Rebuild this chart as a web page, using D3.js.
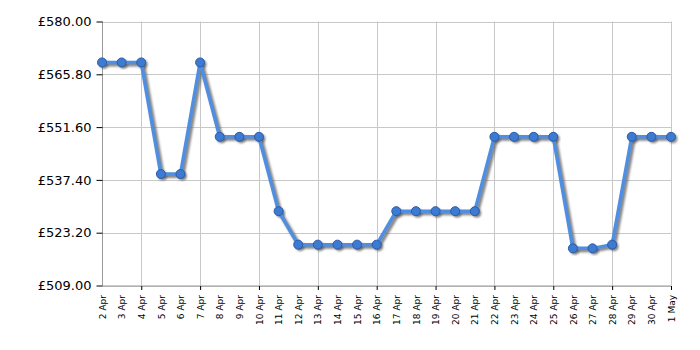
<!DOCTYPE html>
<html>
<head>
<meta charset="utf-8">
<script src="https://cdn.jsdelivr.net/npm/d3@7"></script>
<style>
  body { margin: 0; background: #fff; }
  svg { display: block; }
</style>
</head>
<body>
<svg id="chart" width="700" height="350"></svg>
<script>
// dates and prices
var days = ["2 Apr","3 Apr","4 Apr","5 Apr","6 Apr","7 Apr","8 Apr","9 Apr","10 Apr","11 Apr",
            "12 Apr","13 Apr","14 Apr","15 Apr","16 Apr","17 Apr","18 Apr","19 Apr","20 Apr","21 Apr",
            "22 Apr","23 Apr","24 Apr","25 Apr","26 Apr","27 Apr","28 Apr","29 Apr","30 Apr","1 May"];
var prices = [568.99, 568.99, 568.99, 538.99, 538.99, 568.99, 548.99, 548.99, 548.99, 528.99,
              519.99, 519.99, 519.99, 519.99, 519.99, 528.99, 528.99, 528.99, 528.99, 528.99,
              548.99, 548.99, 548.99, 548.99, 518.99, 518.99, 519.99, 548.99, 548.99, 548.99];
var yTicks = [509, 523.2, 537.4, 551.6, 565.8, 580];

var svg = d3.select("#chart");
// note: "top" is taken by window.top, so use plotTop
var plotLeft = 102, plotRight = 671, plotTop = 21.5, plotBottom = 285.5;

var x = d3.scalePoint().domain(days).range([plotLeft, plotRight]);
var y = d3.scaleLinear().domain([509, 580]).range([plotBottom, plotTop]);

// vertical grid every third day, starting at 4 Apr
var gridDays = days.filter(function(d, i) { return i % 3 == 2; });

var grid = svg.append("g").attr("stroke", "#c8c8c8").attr("stroke-width", 1);
grid.selectAll("line.h").data(yTicks).enter().append("line")
    .attr("x1", plotLeft).attr("x2", plotRight)
    .attr("y1", function(d) { return Math.round(y(d)) + 0.5; })
    .attr("y2", function(d) { return Math.round(y(d)) + 0.5; });
grid.selectAll("line.v").data(gridDays).enter().append("line")
    .attr("x1", function(d) { return Math.round(x(d)) + 0.5; })
    .attr("x2", function(d) { return Math.round(x(d)) + 0.5; })
    .attr("y1", plotTop).attr("y2", plotBottom);

// y axis
var yAxis = svg.append("g")
    .attr("transform", "translate(" + (plotLeft + 0.5) + ",0)")
    .call(d3.axisLeft(y).tickValues(yTicks).tickSize(6).tickPadding(5)
          .tickFormat(function(d) { return "£" + d3.format(".2f")(d); }));
yAxis.select(".domain").attr("stroke", "#999").attr("d", "M0," + plotTop + "V" + (plotBottom + 0.5));
yAxis.selectAll(".tick line").attr("stroke", "#000");
yAxis.selectAll("text").attr("font-family", "DejaVu Sans, Verdana, sans-serif")
    .attr("font-size", "13px").attr("fill", "#000");

// x axis
var xAxis = svg.append("g")
    .attr("transform", "translate(0," + (plotBottom + 0.5) + ")")
    .call(d3.axisBottom(x).tickSize(0).tickPadding(0));
xAxis.select(".domain").attr("stroke", "#999").attr("d", "M" + plotLeft + ",0H" + plotRight);
xAxis.selectAll(".tick").filter(function(d) { return gridDays.indexOf(d) >= 0; })
    .append("line").attr("y2", 4).attr("stroke", "#000");
xAxis.selectAll("text")
    .attr("font-family", "DejaVu Sans, Verdana, sans-serif")
    .attr("font-size", "9px").attr("fill", "#000")
    .attr("text-anchor", "end")
    .attr("dy", "0.35em")
    .attr("transform", "translate(0,9) rotate(-90)");

// price line with a soft shadow
var line = d3.line()
    .x(function(d, i) { return x(days[i]); })
    .y(function(d) { return y(d); });

var defs = svg.append("defs");
defs.append("filter").attr("id", "blur").append("feGaussianBlur").attr("stdDeviation", 1);

svg.append("path").datum(prices)
    .attr("d", line).attr("fill", "none")
    .attr("stroke", "#666").attr("stroke-opacity", 0.8).attr("stroke-width", 4)
    .attr("filter", "url(#blur)")
    .attr("transform", "translate(2,2)");

svg.selectAll("circle.shadow").data(prices).enter().append("circle")
    .attr("class", "shadow")
    .attr("cx", function(d, i) { return x(days[i]) + 2; })
    .attr("cy", function(d) { return y(d) + 2; })
    .attr("r", 4.5).attr("fill", "#555").attr("fill-opacity", 0.7)
    .attr("filter", "url(#blur)");

svg.append("path").datum(prices)
    .attr("d", line).attr("fill", "none")
    .attr("stroke", "#4f8ee0").attr("stroke-width", 3.5)
    .attr("stroke-linejoin", "round");

svg.selectAll("circle.pt").data(prices).enter().append("circle")
    .attr("class", "pt")
    .attr("cx", function(d, i) { return x(days[i]); })
    .attr("cy", function(d) { return y(d); })
    .attr("r", 4.5)
    .attr("fill", "#3d7bd2")
    .attr("stroke", "#2a5ba8").attr("stroke-width", 1);
</script>
</body>
</html>
